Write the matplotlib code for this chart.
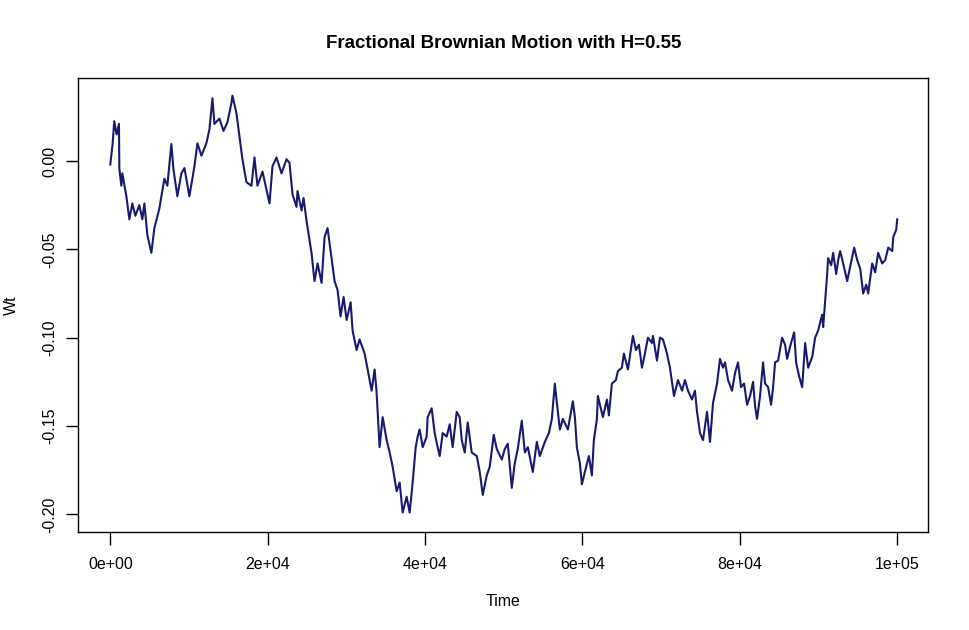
import matplotlib
matplotlib.use("Agg")
import matplotlib.pyplot as plt

# values (time, Wt)
time = [0, 300, 500, 800, 1100, 1150, 1400, 1530, 2040, 2420, 2800, 3180, 3690, 4070,
        4330, 4710, 5220, 5600, 6230, 6870, 7250, 7760, 8020, 8520, 9030, 9420, 10050,
        10690, 11070, 11580, 12210, 12600, 12980, 13230, 13870, 14380, 14890, 15400,
        15520, 16030, 16410, 16790, 17300, 17940, 18320, 18700, 19340, 20230, 20610,
        21120, 21760, 22390, 22770, 23160, 23660, 23790, 24300, 24560, 24940, 25320,
        25570, 25950, 26340, 26850, 27230, 27610, 28120, 28500, 28880, 29260, 29650,
        30030, 30540, 30790, 31300, 31680, 32320, 32700, 33210, 33590, 33840, 33970,
        34220, 34610, 35120, 35500, 35880, 36390, 36770, 37150, 37660, 38040, 38420,
        38810, 39060, 39310, 39700, 40200, 40330, 40840, 41220, 41600, 41860, 42240,
        42750, 43130, 43510, 44020, 44400, 44660, 45040, 45420, 45930, 46570, 46950,
        47330, 47840, 48220, 48730, 49110, 49750, 50130, 50510, 51020, 51400, 51780,
        52290, 52680, 53060, 53690, 54200, 54580, 55220, 55730, 56110, 56490, 56750,
        57130, 57510, 58150, 58780, 59040, 59290, 59670, 59930, 60310, 60820, 61200,
        61450, 61840, 61960, 62600, 63110, 63360, 63740, 64250, 64500, 65010, 65270,
        65780, 66410, 66800, 67180, 67560, 67940, 68320, 68830, 68960, 69470, 69850,
        70230, 70740, 71120, 71380, 71630, 72140, 72650, 73030, 73410, 73920, 74300,
        74560, 74940, 75320, 75830, 76210, 76590, 77100, 77480, 77860, 78120, 78500,
        79010, 79390, 79770, 80150, 80540, 80920, 81300, 81680, 81940, 82190, 82570,
        82950, 83210, 83590, 83970, 84230, 84480, 84860, 85370, 85750, 86010, 86390,
        86900, 87150, 87540, 87920, 88300, 88680, 89190, 89570, 89950, 90460, 90590,
        90840, 91100, 91220, 91610, 91860, 92240, 92500, 92750, 93130, 93640, 94020,
        94530, 94910, 95300, 95680, 96060, 96310, 96820, 97200, 97580, 98090, 98480,
        98860, 99370, 99500, 99870, 100000]
wt = [-0.002, 0.010, 0.0225, 0.015, 0.021, -0.0045, -0.014, -0.007, -0.020, -0.033,
      -0.024, -0.031, -0.025, -0.033, -0.024, -0.042, -0.052, -0.038, -0.027, -0.010,
      -0.014, 0.0096, -0.0045, -0.020, -0.007, -0.004, -0.020, -0.003, 0.010, 0.003,
      0.010, 0.018, 0.0355, 0.021, 0.024, 0.017, 0.022, 0.033, 0.037, 0.027, 0.014,
      0.001, -0.012, -0.014, 0.002, -0.014, -0.006, -0.024, -0.003, 0.002, -0.007,
      0.001, -0.001, -0.019, -0.026, -0.017, -0.028, -0.021, -0.034, -0.045, -0.052,
      -0.068, -0.058, -0.069, -0.043, -0.038, -0.055, -0.068, -0.073, -0.088, -0.077,
      -0.090, -0.080, -0.096, -0.107, -0.101, -0.109, -0.118, -0.130, -0.118, -0.131,
      -0.142, -0.162, -0.145, -0.158, -0.165, -0.173, -0.187, -0.182, -0.199, -0.190,
      -0.199, -0.182, -0.162, -0.156, -0.152, -0.162, -0.156, -0.145, -0.140, -0.154,
      -0.162, -0.167, -0.154, -0.156, -0.149, -0.162, -0.142, -0.145, -0.158, -0.165,
      -0.148, -0.165, -0.167, -0.176, -0.189, -0.178, -0.173, -0.155, -0.163, -0.169,
      -0.163, -0.160, -0.185, -0.171, -0.163, -0.147, -0.165, -0.162, -0.176, -0.159,
      -0.167, -0.159, -0.154, -0.146, -0.126, -0.137, -0.152, -0.146, -0.152, -0.136,
      -0.145, -0.162, -0.171, -0.183, -0.176, -0.167, -0.178, -0.158, -0.146, -0.133,
      -0.145, -0.135, -0.144, -0.126, -0.124, -0.119, -0.117, -0.109, -0.118, -0.099,
      -0.107, -0.104, -0.117, -0.109, -0.100, -0.103, -0.099, -0.113, -0.100, -0.101,
      -0.109, -0.117, -0.125, -0.133, -0.124, -0.130, -0.124, -0.130, -0.135, -0.130,
      -0.142, -0.154, -0.158, -0.142, -0.159, -0.137, -0.126, -0.112, -0.117, -0.114,
      -0.124, -0.130, -0.120, -0.114, -0.128, -0.126, -0.138, -0.133, -0.125, -0.139,
      -0.146, -0.133, -0.114, -0.126, -0.128, -0.138, -0.128, -0.114, -0.113, -0.100,
      -0.104, -0.112, -0.105, -0.097, -0.114, -0.122, -0.128, -0.103, -0.117, -0.111,
      -0.100, -0.096, -0.087, -0.094, -0.079, -0.064, -0.055, -0.059, -0.052, -0.064,
      -0.056, -0.051, -0.058, -0.068, -0.060, -0.049, -0.056, -0.061, -0.075, -0.070,
      -0.075, -0.058, -0.063, -0.052, -0.058, -0.056, -0.049, -0.051, -0.043, -0.039,
      -0.033]

xticks = [0, 20000, 40000, 60000, 80000, 100000]
xtick_labels = ["0e+00", "2e+04", "4e+04", "6e+04", "8e+04", "1e+05"]
yticks = [0.00, -0.05, -0.10, -0.15, -0.20]
ytick_labels = ["0.00", "-0.05", "-0.10", "-0.15", "-0.20"]

plt.rcParams['font.family'] = ['Liberation Sans', 'DejaVu Sans']

fig = plt.figure(figsize=(9.69, 6.3), dpi=100)
ax = fig.add_axes([78.3 / 969, 1 - 532 / 630, (928.3 - 78.3) / 969, (532 - 78.3) / 630])

ax.plot(time, wt, color="#191970", linewidth=1.5)

ax.set_xlim(-4067, 103950)
ax.set_ylim(-0.2100, 0.0468)
ax.set_xticks(xticks)
ax.set_xticklabels(xtick_labels)
ax.set_yticks(yticks)
ax.set_yticklabels(ytick_labels, rotation=90, va="center")
ax.tick_params(direction="out", length=9, width=1, labelsize=11.5, colors="black")
ax.tick_params(axis="x", pad=9)
ax.tick_params(axis="y", pad=6)
for s in ax.spines.values():
    s.set_linewidth(1)

ax.set_title("Fractional Brownian Motion with H=0.55", fontsize=13.5,
             fontweight="bold", pad=22)
ax.set_xlabel("Time", fontsize=11.5)
ax.set_ylabel("Wt", fontsize=11.5)
ax.xaxis.set_label_coords(0.5, -0.137)
ax.yaxis.set_label_coords(-0.07, 0.5)

fig.savefig("out.png", dpi=100)
